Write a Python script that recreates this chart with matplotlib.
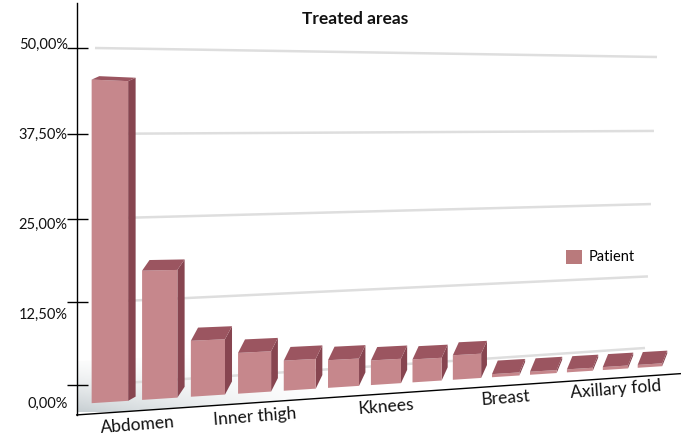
import numpy as np
import matplotlib
matplotlib.use("Agg")
import matplotlib.pyplot as plt
import matplotlib.transforms as mtransforms
from matplotlib.patches import Patch, Polygon

plt.rcParams['font.family'] = ['Lato', 'DejaVu Sans']

# data (share of patients, %)
areas = ['Abdomen', '', '', 'Inner thigh', '', '', 'Kknees', '', '',
         'Breast', '', '', 'Axillary fold', '']
share = [45.3, 18.4, 8.1, 6.0, 4.5, 4.2, 3.8, 3.6, 3.9, 0.5, 0.5, 0.5, 0.5, 0.5]
yticks = [0, 12.5, 25, 37.5, 50]
ytick_labels = ['0,00%', '12,50%', '25,00%', '37,50%', '50,00%']
label_at = [0.55, 3, 6, 9, 12]
series = 'Patient'

W, H = 699, 436
front_col, top_col, side_col = '#c6878c', '#9b5560', '#874550'


def fit_homography(src, dst):
    A, b = [], []
    for (x, y), (u, v) in zip(src, dst):
        A.append([x, y, 1, 0, 0, 0, -u * x, -u * y]); b.append(u)
        A.append([0, 0, 0, x, y, 1, -v * x, -v * y]); b.append(v)
    h = np.linalg.solve(np.array(A, float), np.array(b, float))
    return np.append(h, 1).reshape(3, 3)


class Persp(mtransforms.Transform):
    """keystone view of the (category, value) plane"""
    input_dims = output_dims = 2

    def __init__(self, src, dst):
        super().__init__()
        self.m = fit_homography(src, dst)

    def transform_non_affine(self, values):
        v = np.asarray(values, float).reshape(-1, 2)
        p = np.column_stack([v, np.ones(len(v))]) @ self.m.T
        return p[:, :2] / p[:, 2:3]


fig = plt.figure(figsize=(W / 100, H / 100), dpi=100)
ax = fig.add_axes([0, 0, 1, 1])
ax.set_autoscale_on(False)
ax.set_xlim(0, W)
ax.set_ylim(H, 0)
ax.axis('off')

# plane of the bar fronts and plane of the back wall
pf = Persp([(0, 0), (13, 0), (0, 50), (13, 50)],
           [(110, 402), (650, 367), (110, 47), (650, 76)])
pw = Persp([(-0.45, 0), (-0.45, 50), (13.3, 0), (13.3, 50)],
           [(95, 385), (95, 48), (645, 348), (657, 57)])
front = pf + ax.transData
wall = pw + ax.transData

# soft floor shadow
floor = np.vstack([pf.transform([(-0.65, -1.5), (13.9, -1.5)]),
                   pf.transform([(13.9, 6), (-0.65, 6)])])
clip = Polygon(floor, closed=True, transform=ax.transData, fc='none', ec='none')
ax.add_patch(clip)
gx, gy = np.meshgrid(np.linspace(0, 1, 300), np.linspace(0, 1, 80))
grad = np.zeros((80, 300, 4))
grad[..., :3] = np.array([180, 190, 195]) / 255
grad[..., 3] = np.clip(1 - gx * 2.3, 0, 1) ** 1.2 * np.clip(gy, 0, 1) ** 1.6 * 0.75
img = ax.imshow(grad, extent=(77, 680, 412, 350), origin='upper',
                aspect='auto', zorder=1, interpolation='bilinear')
img.set_clip_path(clip)
ax.set_xlim(0, W)
ax.set_ylim(H, 0)

# gridlines on the back wall
for v in yticks:
    ax.plot([-0.45, 13.3], [v, v], color='#dedede', lw=1.8,
            solid_capstyle='butt', transform=wall, zorder=1.5)

# bars: side, front and top faces
x = np.arange(len(share))
bw, sx = 0.72, 0.15
depth = [0.036 * (60 - h) for h in share]
for xi, h, d in zip(x, share, depth):
    r = xi + bw / 2
    ax.fill([r, r + sx, r + sx, r], [0, d, h + d, h], color=side_col,
            lw=0, transform=front, zorder=3)
ax.bar(x, share, width=bw, color=front_col, lw=0, transform=front, zorder=3.1)
for xi, h, d in zip(x, share, depth):
    l, r = xi - bw / 2, xi + bw / 2
    ax.fill([l, r, r + sx, l + sx], [h, h, h + d, h + d], color=top_col,
            lw=0, transform=front, zorder=3.2)

# axes lines
ax.plot([-0.65, -0.65], [-1.5, 55.9], color='black', lw=1, transform=front, zorder=4)
ax.plot([-0.65, 13.9], [-1.5, -1.5], color='black', lw=1, transform=front, zorder=4)
tick_y = pw.transform([(-0.45, v) for v in yticks])[:, 1]
ax.hlines(tick_y, 67, 88, color='black', lw=1, zorder=4)
lab_t = mtransforms.offset_copy(front, fig=fig, x=-9, y=0, units='dots')
for v, s in zip(yticks, ytick_labels):
    ax.text(-0.65, v, s, transform=lab_t, ha='right', va='center',
            fontsize=10.5, color='#111111')

names = [a for a in areas if a]
for p, s in zip(label_at, names):
    ax.text(p, -3.5, s, transform=front, ha='center', va='center',
            rotation=4.5, rotation_mode='anchor', fontsize=12.5, color='#111111')

ax.set_title('Treated areas', fontsize=12.5, fontweight='bold', y=0.925,
             x=355 / W, color='#111111')

ax.legend(handles=[Patch(facecolor='#b97a7c')], labels=[series],
          loc='center left', bbox_to_anchor=(560 / W, 1 - 257 / H),
          frameon=False, handlelength=1.1, handleheight=1.1,
          handletextpad=0.45, fontsize=10.5, borderaxespad=0)

fig.savefig('out.png', dpi=100, facecolor='white')
